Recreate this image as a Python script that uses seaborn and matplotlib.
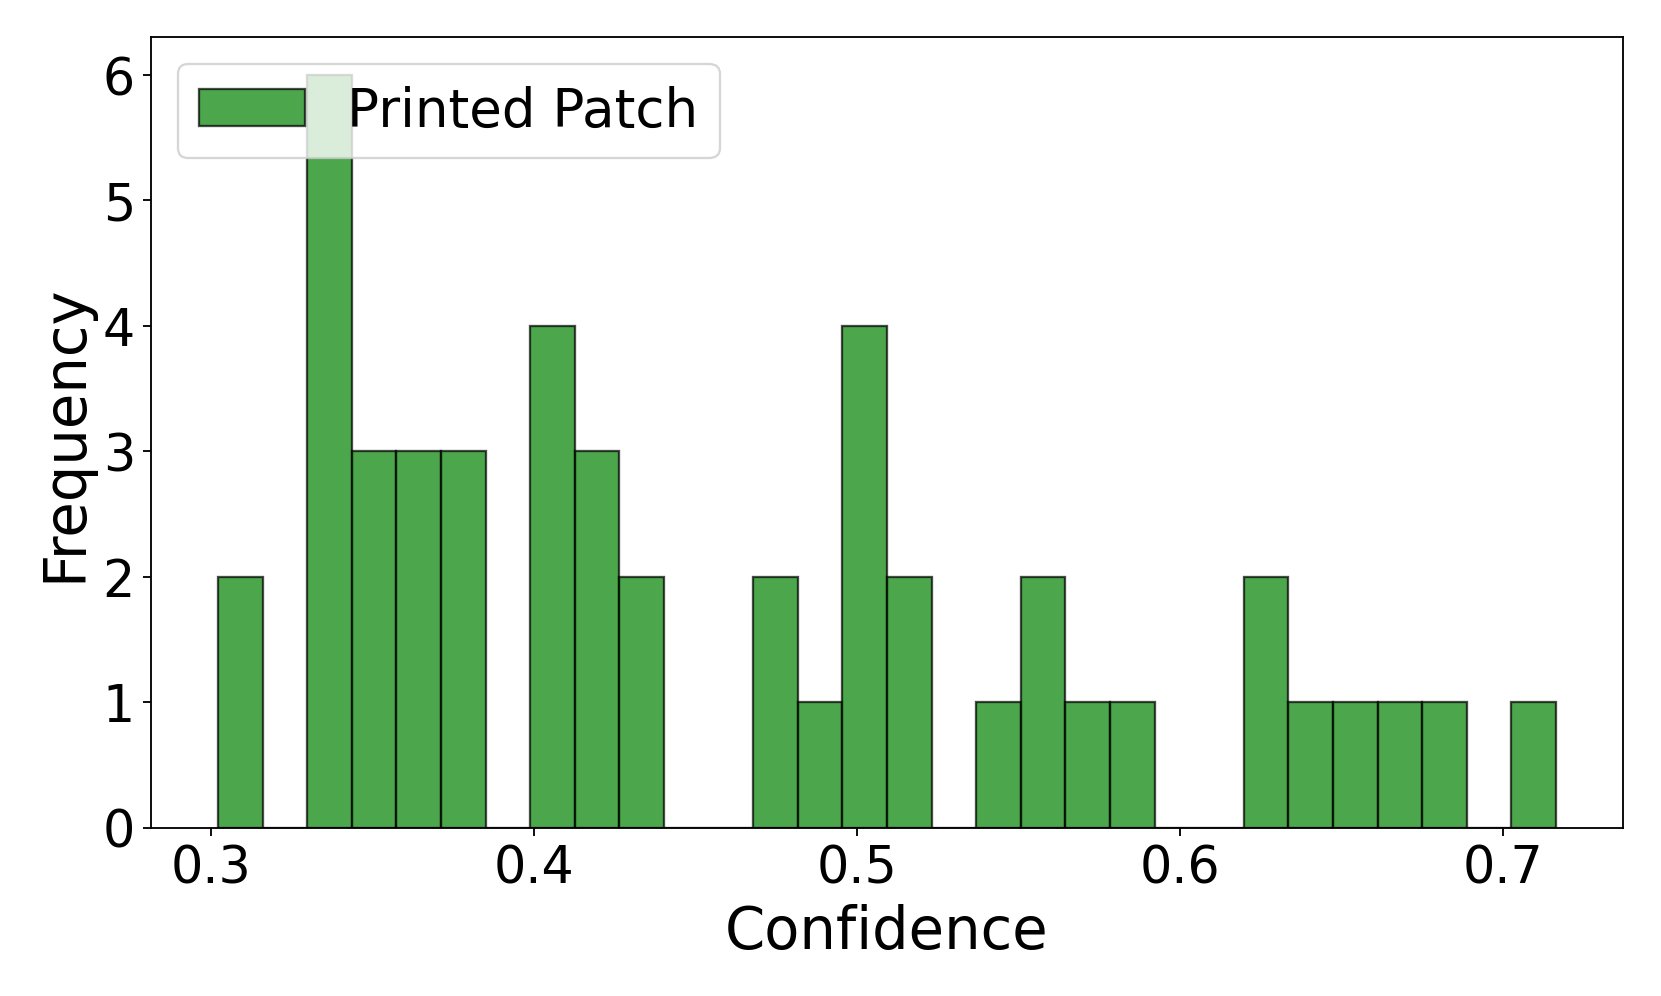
import numpy as np
import matplotlib
matplotlib.use("Agg")
import matplotlib.pyplot as plt
import seaborn as sns

# Histogram: 30 bins between these edges
bin_lo = 0.3023
bin_hi = 0.7164
n_bins = 30
counts = [2, 0, 6, 3, 3, 3, 0, 4, 3, 2,
          0, 0, 2, 1, 4, 2, 0, 1, 2, 1,
          1, 0, 0, 2, 1, 1, 1, 1, 0, 1]

width = (bin_hi - bin_lo) / n_bins
centers = bin_lo + width * (np.arange(n_bins) + 0.5)

fig, ax = plt.subplots(figsize=(10, 6), dpi=166.1)
sns.histplot(x=centers, weights=counts, bins=n_bins, binrange=(bin_lo, bin_hi),
             color="green", alpha=0.7, edgecolor=(0, 0, 0, 0.7), linewidth=1,
             label="Printed Patch", ax=ax)

ax.set_xlabel("Confidence", fontsize=25)
ax.set_ylabel("Frequency", fontsize=25)
ax.tick_params(labelsize=22)
ax.legend(loc="upper left", fontsize=23)

plt.subplots_adjust(left=0.091, right=0.977, top=0.962, bottom=0.169)
plt.savefig("out.png")
